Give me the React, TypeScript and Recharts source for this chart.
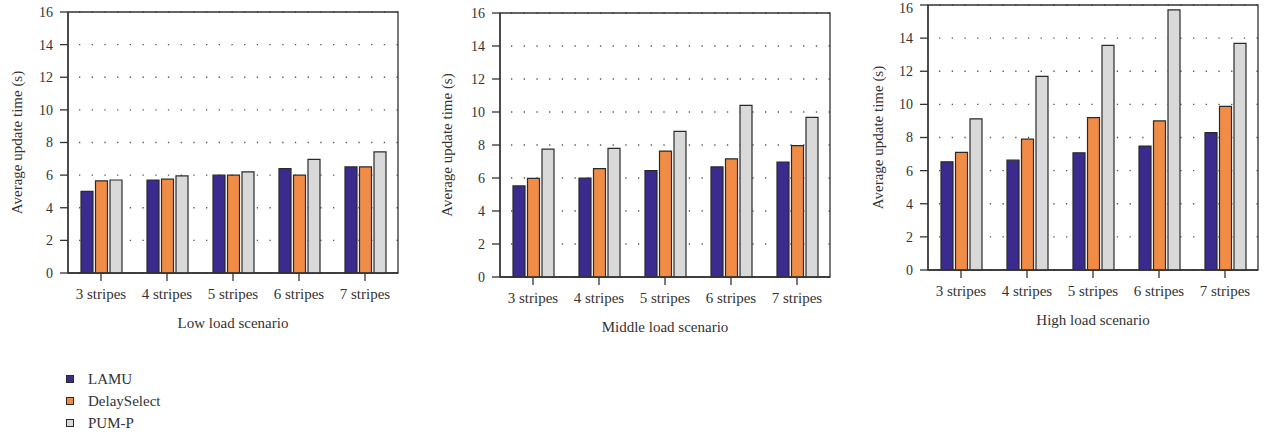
import { BarChart, Bar, XAxis, YAxis, CartesianGrid, ReferenceArea } from "recharts";

const stripes = ["3 stripes", "4 stripes", "5 stripes", "6 stripes", "7 stripes"];
const yTicks = [0, 2, 4, 6, 8, 10, 12, 14, 16];

const lowLAMU = [5.0, 5.7, 6.0, 6.4, 6.5];
const lowDelay = [5.65, 5.75, 6.0, 6.0, 6.5];
const lowPUM = [5.7, 5.95, 6.2, 6.97, 7.43];

const midLAMU = [5.52, 6.0, 6.45, 6.67, 6.97];
const midDelay = [5.98, 6.57, 7.63, 7.16, 7.96];
const midPUM = [7.75, 7.8, 8.82, 10.4, 9.68];

const highLAMU = [6.53, 6.63, 7.08, 7.48, 8.3];
const highDelay = [7.1, 7.9, 9.2, 9.0, 9.88];
const highPUM = [9.13, 11.69, 13.56, 15.7, 13.68];

const series = [
  { key: "LAMU", color: "#3b2b8f" },
  { key: "DelaySelect", color: "#f08c46" },
  { key: "PUM-P", color: "#d9d9d9" },
];

const FONT = "'Liberation Serif', 'Times New Roman', serif";
const INK = "#333";

function rows(a: number[], b: number[], c: number[]) {
  return stripes.map((s, i) => ({ stripe: s, LAMU: a[i], DelaySelect: b[i], "PUM-P": c[i] }));
}

type PanelProps = {
  data: any[];
  title: string;
  left: number;
  axisW: number;
  top: number;
  bottom: number;
  right: number;
  titleOffset: number;
};

function Panel({ data, title, left, axisW, top, bottom, right, titleOffset }: PanelProps) {
  const H = 340;
  return (
    <div style={{ position: "absolute", left, top: 0 }}>
      <BarChart
        width={420}
        height={H}
        data={data}
        margin={{ top, right, left: 0, bottom: 0 }}
        barSize={12}
        barGap={2.5}
      >
        <CartesianGrid
          vertical={false}
          stroke="#555"
          strokeWidth={1.3}
          strokeDasharray="1.3 11.4"
          strokeDashoffset={-11}
        />
        <ReferenceArea y1={0} y2={16} fill="none" stroke={INK} strokeWidth={1.3} ifOverflow="visible" />
        <XAxis
          dataKey="stripe"
          height={H - bottom}
          axisLine={{ stroke: INK, strokeWidth: 1.3 }}
          tickLine={{ stroke: INK, strokeWidth: 1.3 }}
          tickSize={8}
          tickMargin={7}
          tick={{ fill: INK, fontSize: 15, fontFamily: FONT }}
          interval={0}
          label={{
            content: ({ viewBox }: any) => (
              <text
                x={viewBox.x + viewBox.width / 2}
                y={viewBox.y + 55}
                textAnchor="middle"
                fill={INK}
                fontSize={15}
                fontFamily={FONT}
              >
                {title}
              </text>
            ),
          }}
        />
        <YAxis
          domain={[0, 16]}
          ticks={yTicks}
          width={axisW}
          axisLine={{ stroke: INK, strokeWidth: 1.3 }}
          tickLine={{ stroke: INK, strokeWidth: 1.3 }}
          tickSize={8}
          tickMargin={7}
          tick={{ fill: INK, fontSize: 14, fontFamily: FONT }}
          label={{
            content: ({ viewBox }: any) => {
              const cx = viewBox.x + viewBox.width - titleOffset;
              const cy = viewBox.y + viewBox.height / 2;
              return (
                <text
                  x={cx}
                  y={cy}
                  transform={`rotate(-90 ${cx} ${cy})`}
                  textAnchor="middle"
                  dominantBaseline="central"
                  fill={INK}
                  fontSize={15}
                  fontFamily={FONT}
                >
                  Average update time (s)
                </text>
              );
            },
          }}
        />
        {series.map((s) => (
          <Bar
            key={s.key}
            dataKey={s.key}
            fill={s.color}
            stroke="#2a2a2a"
            strokeWidth={1.2}
            isAnimationActive={false}
          />
        ))}
      </BarChart>
    </div>
  );
}

export default function App() {
  return (
    <div style={{ position: "absolute", left: 0, top: 0, width: 1265, height: 438, background: "#fff", fontFamily: FONT }}>
      <Panel data={rows(lowLAMU, lowDelay, lowPUM)} title="Low load scenario" left={0} axisW={68} top={12} bottom={273} right={22} titleOffset={51} />
      <Panel data={rows(midLAMU, midDelay, midPUM)} title="Middle load scenario" left={420} axisW={80} top={13} bottom={277} right={10} titleOffset={53} />
      <Panel data={rows(highLAMU, highDelay, highPUM)} title="High load scenario" left={845} axisW={83} top={5} bottom={270} right={7} titleOffset={50} />
      <div style={{ position: "absolute", left: 66, top: 368 }}>
        {series.map((s) => (
          <div key={s.key} style={{ display: "flex", alignItems: "center", height: 22 }}>
            <span style={{ width: 8, height: 8, background: s.color, border: "1px solid #2a2a2a", boxSizing: "border-box", display: "inline-block" }} />
            <span style={{ marginLeft: 14, fontSize: 15, color: INK, lineHeight: "22px" }}>{s.key}</span>
          </div>
        ))}
      </div>
    </div>
  );
}
